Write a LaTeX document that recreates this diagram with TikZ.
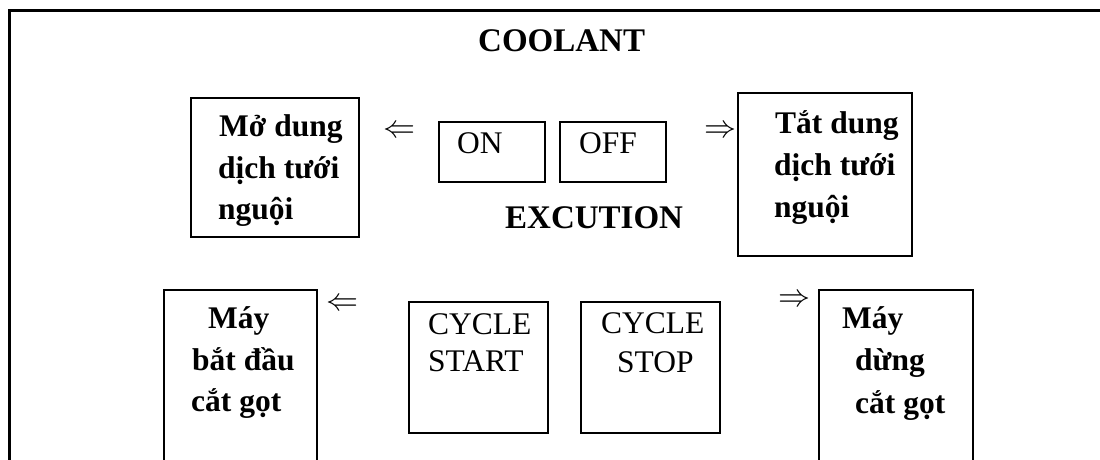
\documentclass[tikz,border=0pt]{standalone}
\usepackage{fontspec}
\setmainfont{Liberation Serif}
\begin{document}
\begin{tikzpicture}[x=1pt,y=-1pt,
  box/.style={draw,line width=1.7pt,inner sep=0pt,anchor=north west},
  txt/.style={font=\fontsize{31.5}{38}\selectfont\bfseries,anchor=base west,inner sep=0pt},
  key/.style={font=\fontsize{31.5}{38}\selectfont,anchor=base west,inner sep=0pt},
  head/.style={font=\fontsize{33}{40}\selectfont\bfseries,anchor=base west,inner sep=0pt},
  arr/.style={inner sep=0pt}]
\useasboundingbox (0,0) rectangle (1100,459);
\clip (0,0) rectangle (1100,459);

% page frame (top and left edges)
\draw[line width=3pt] (9,470) -- (9,10) -- (1110,10);

% section titles
\node[head] (coolant) at (478,51) {COOLANT};
\node[head] (excution) at (505,228) {EXCUTION};

% coolant keys and their effects
\node[box,minimum width=168pt,minimum height=139pt] (mo) at (190,97) {};
\node[box,minimum width=106pt,minimum height=60pt] (on) at (438,121) {};
\node[box,minimum width=106pt,minimum height=60pt] (off) at (559,121) {};
\node[box,minimum width=174pt,minimum height=163pt] (tat) at (737,92) {};

\node[key] (onT) at (457,153) {ON};
\node[key] (offT) at (579,153) {OFF};

\node[txt] (mo1) at (219,136) {Mở dung};
\node[txt] (mo2) at (218,178) {dịch tưới};
\node[txt] (mo3) at (218,219) {nguội};

\node[txt] (tat1) at (775,133) {Tắt dung};
\node[txt] (tat2) at (774,175) {dịch tưới};
\node[txt] (tat3) at (774,217) {nguội};

\node[arr] (aOn) at (399,132) {\scalebox{3.2}{$\Leftarrow$}};
\node[arr] (aOff) at (720,132) {\scalebox{3.2}{$\Rightarrow$}};

% cycle keys and their effects
\node[box,minimum width=153pt,minimum height=200pt] (bd) at (163,289) {};
\node[box,minimum width=139pt,minimum height=131pt] (cstart) at (408,301) {};
\node[box,minimum width=139pt,minimum height=131pt] (cstop) at (580,301) {};
\node[box,minimum width=154pt,minimum height=200pt] (dung) at (818,289) {};

\node[key] (cs1) at (428,334) {CYCLE};
\node[key] (cs2) at (428,371) {START};
\node[key] (cp1) at (601,333) {CYCLE};
\node[key] (cp2) at (617,372) {STOP};

\node[txt] (bd1) at (208,328) {Máy};
\node[txt] (bd2) at (192,370) {bắt đầu};
\node[txt] (bd3) at (191,411) {cắt gọt};

\node[txt] (dg1) at (842,328) {Máy};
\node[txt] (dg2) at (855,370) {dừng};
\node[txt] (dg3) at (855,413) {cắt gọt};

\node[arr] (aStart) at (342,305) {\scalebox{3.2}{$\Leftarrow$}};
\node[arr] (aStop) at (794,301) {\scalebox{3.2}{$\Rightarrow$}};
\end{tikzpicture}
\end{document}
